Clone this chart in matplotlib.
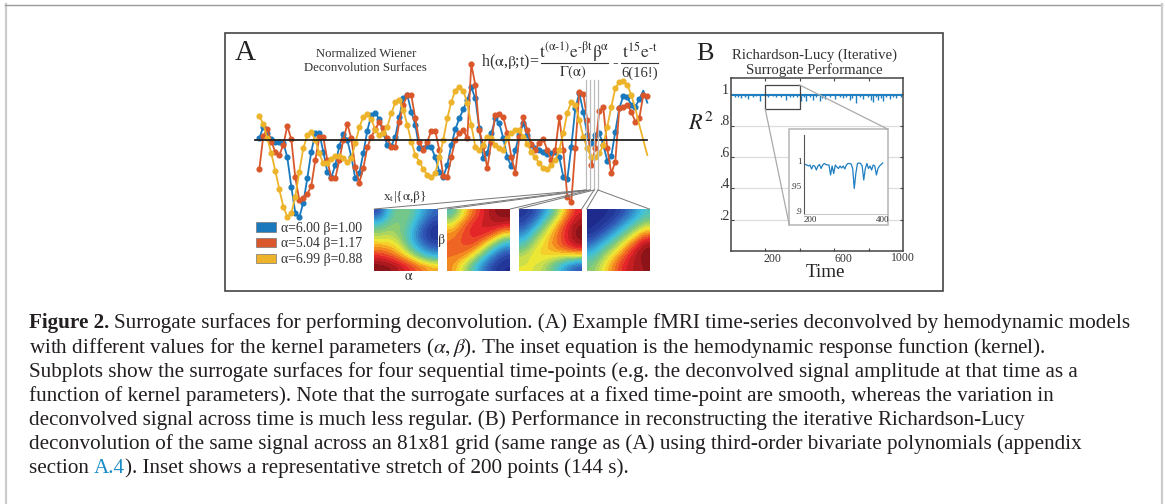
# Surrogate surfaces figure: deconvolved series, surfaces, R2 panel and caption
import numpy as np
import matplotlib
matplotlib.use('Agg')
import matplotlib.pyplot as plt
from matplotlib.colors import LinearSegmentedColormap
from matplotlib.patches import Patch, Rectangle

plt.rcParams['font.family'] = ['Liberation Serif', 'DejaVu Serif']
plt.rcParams['mathtext.fontset'] = 'stix'

W, H = 1165, 504

# panel A series, amplitude, one value per time-point
blue_series = [5, 40, 20, 3, -5, -5, -8, -52, -140, -218, -232, -188, -115, -35, 20, 20, -35, -95, -112, -75, -18,
               18, 0, -50, -115, -100, -40, 28, 75, 82, 62,
               20, -15, -18, 10, 70, 125, 135, 85, 45, -25, -25, -18, -22, -52, -95, -110, -75, -15, 32, 65, 92,
               120, 158, 125, 35, -55, -40, 20, 65, 50, 5, -52, -78,
               -30, 15, 50, 15, -15, -25, -30, -35, -43, -40, -35, -52, -110, -118, -20, 95, 140, 85, 15, -10, 15,
               20, -15, -62, -48, 25, 95, 132, 128, 105, 100, 122, 148, 112]
red_series = [-88, 12, 32, -5, -35, -45, -15, 42, 2, -112, -180, -175, -162, -138, -60, 8, 8, -60, -115, -115, -60,
              0, 48, 5, -82, -128, -85, -22, 10, 32, 55,
              35, 5, -20, -22, 55, 105, 135, 134, 65, -5, -30, -5, 27, 27, -30, -108, -110, -52, 0, 20, 30, 5,
              228, 165, 30, -18, -85, -5, 75, 78, 68, 20, -50,
              -100, 10, 68, 30, -12, -30, -8, 2, -30, -60, -30, 68, -30, -170, -185, -25, 145, 138, 60, -75, -25,
              88, 98, -25, -100, -65, 95, 100, 105, 85, 55, 65, 135, 132]
yellow_series = [72, 48, 5, -40, -92, -148, -200, -230, -220, -170, -95, -25, 15, 23, 0, -40, -70, -70, -58, -48, -48,
                 -55, -65, -55, -10, 38, 70, 77, 62, 30, 15,
                 20, 40, 80, 113, 120, 90, 45, -5, -45, -65, -88, -105, -112, -100, -50, 0, 65, 115, 148, 160, 148,
                 110, 45, -20, -30, -15, 10, 5, -15, -25, -30, 5, 20,
                 30, 30, 10, -12, -35, -52, -70, -85, -88, -75, -60, -30, 20, 82, 115, 105, 60, 10, -25, -52, -50,
                 -40, -15, 40, 100, 155, 175, 178, 165, 135, 95, 45, 0, -45]
series_labels = ['α=6.00 β=1.00', 'α=5.04 β=1.17', 'α=6.99 β=0.88']
series_colors = ['#1a78bd', '#d9572a', '#edb32a']

# surfaces, coarse colour levels (top row first)
surface_1 = [[.10, .42, .50, .48, .33, .18],
             [.40, .50, .52, .42, .20, .07],
             [.55, .58, .50, .35, .12, .02],
             [.70, .68, .60, .38, .20, .10],
             [.85, .80, .72, .60, .42, .30],
             [1.0, .98, .92, .85, .78, .72]]
surface_2 = [[.40, .62, .78, .88, .97, 1.0],
             [.62, .78, .87, .90, .93, .92],
             [.75, .82, .87, .88, .80, .65],
             [.78, .82, .84, .70, .50, .30],
             [.78, .78, .65, .45, .20, .08],
             [.75, .60, .42, .20, .07, .03]]
surface_3 = [[.05, .10, .28, .50, .72, .88],
             [.10, .25, .50, .68, .85, .97],
             [.25, .48, .62, .76, .87, 1.0],
             [.42, .60, .68, .78, .85, .95],
             [.58, .66, .68, .66, .68, .68],
             [.62, .62, .55, .42, .25, .12]]
surface_4 = [[.00, .02, .05, .12, .25, .40],
             [.02, .05, .12, .28, .42, .55],
             [.05, .15, .32, .48, .62, .78],
             [.20, .38, .50, .66, .82, .97],
             [.38, .52, .66, .80, .93, 1.0],
             [.50, .63, .76, .88, .93, .97]]

# panel B, R2 dips from the baseline
r2_baseline = [.995, .995]
r2_limits = [0, 1000]
dip_times = [23, 42, 62, 85, 100, 129, 149, 172, 197, 216, 245, 264, 293, 322, 342, 361, 386, 409, 425, 438, 461, 477,
             496, 515, 529, 544, 573, 602, 631, 651, 670, 689, 703, 728, 747, 767, 796, 811, 824, 840, 853, 869, 882,
             902, 921, 940, 959, 988]
dip_values = [.98, .985, .975, .985, .97, .98, .99, .955, .99, .985, .99, .985, .985, .96, .985, .98, .985, .955, .98,
              .955, .985, .96, .985, .955, .975, .97, .985, .97, .985, .975, .98, .96, .975, .945, .985, .97, .985,
              .96, .95, .98, .96, .975, .955, .985, .97, .985, .975, .98]

# inset stretch of 200 points, read every 4 time units
inset_times = list(range(200, 404, 4))
inset_values = [.995, .993, .992, .99, .992, .984, .991, .99, .982, .99, .993, .985, .992, .995, .993, .992, .992,
                .972, .99, .975, .992, .988, .985, .99, .986, .99, .984, .992, .995, .995, .994, .985, .945, .975,
                .995, .996, .995, .99, .962, .985, .995, .985, .99, .982, .992, .99, .972, .985, .99, .993, .996]

y_ticks_b = [.2, .4, .6, .8, 1]
y_labels_b = ['.2', '.4', '.6', '.8', '1']
x_ticks_b = [200, 400, 600, 800]


def px_axes(x0, y0, x1, y1, **kw):
    ''' Axes from pixel box, y counted from the top '''
    return fig.add_axes([x0 / W, 1 - y1 / H, (x1 - x0) / W, (y1 - y0) / H], **kw)


fig = plt.figure(figsize=(W / 100, H / 100), dpi=100)

# overlay in pixels for frames, connectors and free text
over = px_axes(0, 0, W, H, zorder=5)
over.set_xlim(0, W)
over.set_ylim(H, 0)
over.axis('off')
over.patch.set_alpha(0)

# page frame, open at the bottom
over.plot([5.5, 5.5], [4, H], color='#cccccc', lw=1.6)
over.plot([5, 1161.5], [4.5, 4.5], color='#999999', lw=1)
over.plot([1161.5, 1161.5], [4, H], color='#cccccc', lw=1.6)
over.add_patch(Rectangle((225, 33), 718, 258, fill=False, ec='#444444', lw=1.2))

over.text(245.5, 53, 'A', fontsize=21, color='#222222', ha='center', va='center')
over.text(704.5, 54, 'B', fontsize=19, color='#222222', ha='center', va='center')
over.text(365.7, 54, 'Normalized Wiener', fontsize=9.2, color='#333333', ha='center', va='center')
over.text(365.7, 68, 'Deconvolution Surfaces', fontsize=9.2, color='#333333', ha='center', va='center')
over.text(814, 55, 'Richardson-Lucy (Iterative)', fontsize=10.6, color='#333333', ha='center', va='center')
over.text(814, 70, 'Surrogate Performance', fontsize=10.6, color='#333333', ha='center', va='center')

# kernel equation
eq_color = '#333333'
over.text(510, 62, r'h($\mathrm{\alpha}$,$\mathrm{\beta}$;t)=', fontsize=11.5, color=eq_color, ha='center', va='center')
over.text(574, 52, r'$\mathrm{t^{(\alpha\text{-}1)}e^{\text{-}\beta t}\beta^{\alpha}}$', fontsize=12.5, color=eq_color,
          ha='center', va='center')
over.plot([541, 608], [62.5, 62.5], color=eq_color, lw=0.8)
over.text(573, 72.5, r'$\mathrm{\Gamma(\alpha)}$', fontsize=10.5, color=eq_color, ha='center', va='center')
over.text(615, 63, '-', fontsize=12, color=eq_color, ha='center', va='center')
over.text(640, 52, r'$\mathrm{t^{15}e^{\text{-}t}}$', fontsize=12.5, color=eq_color, ha='center', va='center')
over.plot([621, 658], [62.5, 62.5], color=eq_color, lw=0.8)
over.text(640, 73, '6(16!)', fontsize=10.5, color=eq_color, ha='center', va='center')

# panel A series on their own axes, 4 px per time-point and 3 units per px
ax_a = px_axes(225, 33, 690, 291)
ax_a.patch.set_alpha(0)
ax_a.axis('off')
ax_a.set_xlim((225 - 259.3) / 4, (690 - 259.3) / 4)
ax_a.set_ylim((140 - 291) * 3, (140 - 33) * 3)
time_points = np.arange(len(blue_series))
ax_a.plot(time_points, blue_series, color=series_colors[0], lw=1.3, marker='o', ms=3.4, markevery=range(96))
ax_a.plot(time_points, red_series, color=series_colors[1], lw=1.3, marker='o', ms=3.4)
ax_a.plot(time_points, yellow_series, color=series_colors[2], lw=1.3, marker='o', ms=3.4, markevery=range(94))
ax_a.plot([time_points[0] - 1, time_points[-1]], [0, 0], color='#222222', lw=1.3)

handles = [Patch(fc=c, ec='#777777', lw=0.5) for c in series_colors]
ax_a.legend(handles, series_labels, frameon=False, prop={'size': 9.9}, loc='lower left',
            bbox_to_anchor=(0.0667, 0.096), handlelength=1.45, handleheight=0.7, handletextpad=0.38,
            labelspacing=0.2, borderpad=0, borderaxespad=0, labelcolor='#333333')

# softer jet as printed in the squares, split into contour bands
surface_cmap = LinearSegmentedColormap.from_list(
    'soft_jet', [(0, '#1e2a8c'), (.125, '#2f55b5'), (.35, '#3bbfe0'), (.5, '#7cc97f'), (.65, '#f5ea30'),
                 (.75, '#f59020'), (.875, '#e8262a'), (1, '#8c1418')], N=26)

# vertical time-point markers and connectors to the squares
marker_x = [586, 590, 594, 598]
square_edges = [(374.3, 437.7), (447.3, 510.3), (519, 581.7), (586.7, 649.3)]
surfaces = [surface_1, surface_2, surface_3, surface_4]
for mx, edges, surface in zip(marker_x, square_edges, surfaces):
    over.plot([mx, mx], [80, 190], color='#bbbbbb', lw=0.9)
    over.plot([mx, edges[0]], [190, 209], color='#777777', lw=0.7)
    over.plot([mx, edges[1]], [190, 209], color='#777777', lw=0.7)
    ax_s = px_axes(edges[0], 208.7, edges[1], 271.3)
    ax_s.imshow(np.array(surface), cmap=surface_cmap, vmin=0, vmax=1, aspect='auto', interpolation='bicubic',
                interpolation_stage='data')
    ax_s.axis('off')

over.text(404.5, 197, r'x$_{\mathrm{t}}$|{$\mathrm{\alpha}$,$\mathrm{\beta}$}', fontsize=9.5, color='#333333',
          ha='center', va='center')
over.text(441.7, 240.5, r'$\mathrm{\beta}$', fontsize=10, color='#333333', ha='center', va='center')
over.text(409, 277, r'$\mathrm{\alpha}$', fontsize=10, color='#333333', ha='center', va='center')

# panel B
ax_b = px_axes(730.7, 77.7, 903.3, 251)
ax_b.set_xlim(r2_limits)
ax_b.set_ylim(0, 1.105)
ax_b.plot(r2_limits, r2_baseline, color='#1f7fc0', lw=1.5, solid_capstyle='butt')
ax_b.vlines(dip_times, dip_values, r2_baseline[0], color='#1f7fc0', lw=1)
ax_b.set_xticks(x_ticks_b)
ax_b.set_xticklabels([])
ax_b.set_yticks(y_ticks_b)
ax_b.set_yticklabels([])
ax_b.tick_params(direction='in', length=2.5, width=0.8, color='#444444', top=True, right=True)
ax_b.grid(axis='y', color='#dddddd', lw=0.9)
ax_b.set_axisbelow(True)
for spine in ax_b.spines.values():
    spine.set_color('#444444')
    spine.set_linewidth(1.1)

for tick, label in zip(y_ticks_b, y_labels_b):
    over.text(729, 251 - tick * 157 - 3.5, label, fontsize=10, color='#333333', ha='right', va='center')
for lx, ly, label in [(772, 259.5, '200'), (843, 259, '600'), (903, 258, '1000')]:
    over.text(lx, ly, label, fontsize=8.5, color='#333333', ha='center', va='center')
over.text(825, 272.5, 'Time', fontsize=13.7, color='#222222', ha='center', va='center')
over.text(701, 124, r'$R^2$', fontsize=16, color='#222222', ha='center', va='center')

# zoom box, inset frame and the two lines joining them
box_top = 85
over.add_patch(Rectangle((765.3, box_top), 34.4, 24.3, fill=False, ec='#444444', lw=0.9))
over.plot([799.7, 888], [box_top, 129.3], color='#aaaaaa', lw=0.9)
over.plot([765.3, 789.3], [109.3, 225], color='#aaaaaa', lw=0.9)
over.add_patch(Rectangle((789.3, 129.3), 98.7, 95.7, fc='white', ec='#b5b5b5', lw=1.1))

ax_i = px_axes(803.7, 135, 888, 214, zorder=6)
ax_i.patch.set_alpha(0)
ax_i.set_xlim(200, 200 + (888 - 803.7) * 200 / 79)
ax_i.set_ylim(1 - (214 - 161) * .05 / 25, 1 + (161 - 135) * .05 / 25)
ax_i.plot(inset_times, inset_values, color='#1f7fc0', lw=0.9)
ax_i.set_xticks([200, 400])
ax_i.set_xticklabels(['200', '400'], fontsize=6.5, color='#333333')
ax_i.get_xticklabels()[0].set_ha('left')
ax_i.set_yticks([.9, .95, 1])
ax_i.set_yticklabels(['.9', '.95', '1'], fontsize=6.5, color='#333333')
ax_i.tick_params(length=0, pad=1.5)
ax_i.spines['top'].set_visible(False)
ax_i.spines['right'].set_visible(False)
ax_i.spines['left'].set_color('#555555')
ax_i.spines['bottom'].set_color('#bbbbbb')
ax_i.spines['left'].set_linewidth(0.8)
ax_i.spines['bottom'].set_linewidth(0.6)

# caption, one text per run so bold and link colour can change inside a line
caption_size = 15.2
ink = '#231f20'
caption_lines = [
    (328, [('Figure 2.', 'bold', ink),
           (' Surrogate surfaces for performing deconvolution. (A) Example fMRI time-series deconvolved by hemodynamic models', 'normal', ink)]),
    (352.5, [(r'with different values for the kernel parameters ($\alpha, \beta$). The inset equation is the hemodynamic response function (kernel).', 'normal', ink)]),
    (376.5, [('Subplots show the surrogate surfaces for four sequential time-points (e.g. the deconvolved signal amplitude at that time as a', 'normal', ink)]),
    (400.5, [('function of kernel parameters). Note that the surrogate surfaces at a fixed time-point are smooth, whereas the variation in', 'normal', ink)]),
    (424.5, [('deconvolved signal across time is much less regular. (B) Performance in reconstructing the iterative Richardson-Lucy', 'normal', ink)]),
    (449, [('deconvolution of the same signal across an 81x81 grid (same range as (A) using third-order bivariate polynomials (appendix', 'normal', ink)]),
    (473, [('section ', 'normal', ink), ('A.4', 'normal', '#1a8cc8'),
           ('). Inset shows a representative stretch of 200 points (144 s).', 'normal', ink)]),
]
renderer = fig.canvas.get_renderer()
for line_y, runs in caption_lines:
    cursor = 29
    for run_text, run_weight, run_color in runs:
        # a leading space is dropped from the measured box, so shift it by hand
        if run_text.startswith(' '):
            cursor += 5
        txt = over.text(cursor, line_y, run_text.lstrip(' '), fontsize=caption_size, fontweight=run_weight,
                        color=run_color, ha='left', va='baseline')
        cursor = txt.get_window_extent(renderer).x1

fig.savefig('out.png', dpi=100)
